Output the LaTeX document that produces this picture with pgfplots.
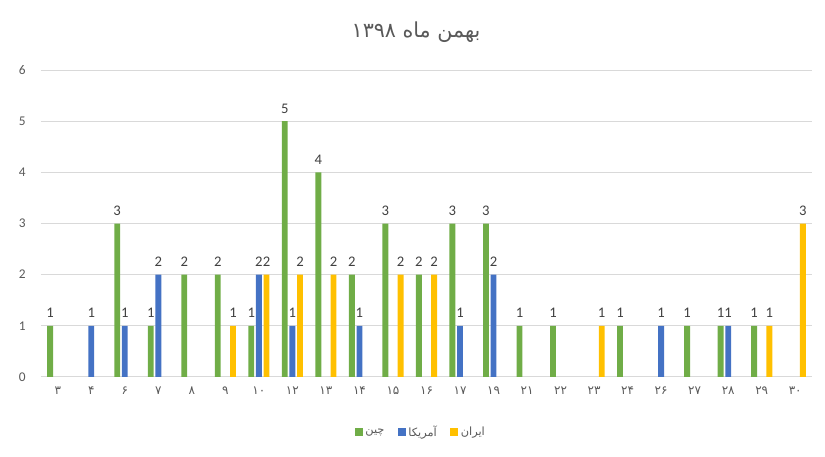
\documentclass[border=0pt]{standalone}
\usepackage{fontspec}
\setmainfont{Carlito}
\newfontfamily\arabicfont[Script=Arabic]{DejaVu Sans}
\TeXXeTstate=1
\usepackage{pgfplots}
\pgfplotsset{compat=1.18}
\definecolor{cgreen}{HTML}{70AD47}
\definecolor{cblue}{HTML}{4472C4}
\definecolor{cyellow}{HTML}{FFC000}
\definecolor{tgray}{HTML}{595959}
\definecolor{lgray}{HTML}{404040}
\definecolor{ggray}{HTML}{D9D9D9}
\begin{document}
\begin{tikzpicture}
\path[use as bounding box] (0,0) rectangle (618.75pt,342.75pt);
\node[font=\arabicfont\fontsize{15.5}{17}\selectfont, text=tgray] at (312pt,318.75pt) {\beginR بهمن ماه ۱۳۹۸\endR};
\begin{axis}[
  at={(30.75pt,60pt)}, anchor=south west,
  scale only axis, width=578.25pt, height=230.25pt,
  ybar=1.3pt, bar width=4.4pt,
  xmin=-0.5, xmax=22.5, ymin=0, ymax=6,
  xtick={0,...,22},
  xticklabels={۳,۴,۶,۷,۸,۹,۱۰,۱۲,۱۳,۱۴,۱۵,۱۶,۱۷,۱۹,۲۱,۲۲,۲۳,۲۴,۲۶,۲۷,۲۸,۲۹,۳۰},
  xticklabel style={font=\arabicfont\fontsize{9}{10}\selectfont, text=tgray, yshift=-4pt},
  ytick={0,1,...,6},
  yticklabel style={font=\fontsize{10}{11}\selectfont, text=tgray, xshift=-8pt},
  /pgf/number format/assume math mode=true,
  major tick length=0pt,
  axis line style={draw=none},
  ymajorgrids, grid style={ggray, line width=0.75pt},
  nodes near coords,
  every node near coord/.append style={font=\fontsize{11}{12}\selectfont, text=lgray, /pgf/number format/assume math mode=true, yshift=2.5pt},
  legend style={at={(0.493,-0.179)}, anchor=center, draw=none, legend columns=3,
    font=\arabicfont\fontsize{8.5}{10}\selectfont, text=tgray,
    /tikz/every even column/.append style={column sep=8pt}},
  legend image code/.code={\fill[#1] (0pt,-3pt) rectangle (6pt,3pt);},
]
\addplot[fill=cgreen, draw=none] coordinates {(0,1)(2,3)(3,1)(4,2)(5,2)(6,1)(7,5)(8,4)(9,2)(10,3)(11,2)(12,3)(13,3)(14,1)(15,1)(17,1)(19,1)(20,1)(21,1)};
\addlegendentry{چین}
\addplot[fill=cblue, draw=none] coordinates {(1,1)(2,1)(3,2)(6,2)(7,1)(9,1)(12,1)(13,2)(18,1)(20,1)};
\addlegendentry{آمریکا}
\addplot[fill=cyellow, draw=none] coordinates {(5,1)(6,2)(7,2)(8,2)(10,2)(11,2)(16,1)(21,1)(22,3)};
\addlegendentry{ایران}
\end{axis}
\end{tikzpicture}
\end{document}
